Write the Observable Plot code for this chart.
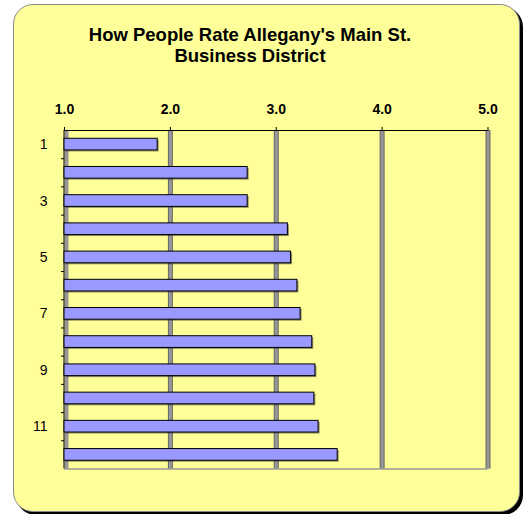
<!DOCTYPE html>
<html>
<head>
<meta charset="utf-8">
<script src="https://cdn.jsdelivr.net/npm/d3@7"></script>
<script src="https://cdn.jsdelivr.net/npm/@observablehq/plot@0.6"></script>
<style>
  html, body { margin: 0; padding: 0; background: #fff; }
  #wrap { position: relative; width: 526px; height: 514px; font-family: Arial, "Liberation Sans", sans-serif; }
  .panel { position: absolute; left: 13px; top: 4px; width: 507px; height: 508px; box-sizing: border-box;
    background: #FFFF99; border: 1px solid #888; border-radius: 20px; box-shadow: 3px 3px 0 #000; }
  .title { position: absolute; left: 0; top: 23.5px; width: 500px; text-align: center; font-weight: bold;
    font-size: 18.5px; line-height: 21px; color: #000; }
  #chart { position: absolute; left: 0; top: 0; }
  #chart svg { overflow: visible; }
</style>
</head>
<body>
<div id="wrap">
  <div class="panel"></div>
  <div class="title">How People Rate Allegany's Main St.<br>Business District</div>
  <div id="chart"></div>
</div>
<script>
const categories = [1, 2, 3, 4, 5, 6, 7, 8, 9, 10, 11, 12];
const ratings = [1.88, 2.73, 2.73, 3.11, 3.14, 3.20, 3.23, 3.34, 3.37, 3.36, 3.40, 3.58];
const xTicks = [1, 2, 3, 4, 5];
const yLabels = [1, 3, 5, 7, 9, 11];
const yBounds = [1.5, 2.5, 3.5, 4.5, 5.5, 6.5, 7.5, 8.5, 9.5, 10.5, 11.5];

const data = categories.map((c, i) => ({cat: c, rating: ratings[i]}));

const chart = Plot.plot({
  width: 526,
  height: 514,
  marginTop: 130,
  marginBottom: 45.5,
  marginLeft: 64,
  marginRight: 38.5,
  style: {background: "transparent", fontFamily: "Arial, 'Liberation Sans', sans-serif", color: "#000"},
  x: {domain: [1, 5]},
  y: {domain: [0.5, 12.5], reverse: true},
  marks: [
    Plot.ruleX(xTicks.slice(1), {x: d => d, stroke: "#666", strokeWidth: 5}),
    Plot.ruleX(xTicks.slice(1), {x: d => d, stroke: "url(#hatch)", strokeWidth: 3}),
    Plot.ruleX([xTicks[0]], {x: d => d, dx: 2, stroke: "url(#hatch)", strokeWidth: 4}),
    Plot.ruleY([12.5], {y: d => d, x1: 1, x2: 5, dx: 0, stroke: "#999", strokeWidth: 1.5}),
    Plot.ruleX([1], {x: d => d, dx: -0.5, stroke: "#000", strokeWidth: 1}),
    Plot.ruleY([0.5], {y: d => d, stroke: "#000", strokeWidth: 1}),
    Plot.rectX(data, {x1: 1, x2: "rating", y1: d => d.cat - 0.207, y2: d => d.cat + 0.207,
      dx: 1.5, dy: 1.5, fill: "#333", fillOpacity: 0.55}),
    Plot.rectX(data, {x1: 1, x2: "rating", y1: d => d.cat - 0.207, y2: d => d.cat + 0.207,
      fill: "#9999FF", stroke: "#000", strokeWidth: 1}),
    Plot.axisX({anchor: "top", ticks: xTicks, tickFormat: d3.format(".1f"), tickSize: 4, tickPadding: 13,
      fontSize: 14, fontWeight: "bold", label: null}),
    Plot.axisY({ticks: yLabels, tickSize: 0, tickPadding: 17, fontSize: 14, tickFormat: d => String(d), label: null}),
    Plot.axisY({ticks: yBounds, tickSize: 3, tickFormat: () => "", label: null})
  ]
});

const svg = d3.select(chart);
const defs = svg.insert("defs", ":first-child");
const pat = defs.append("pattern").attr("id", "hatch").attr("patternUnits", "userSpaceOnUse")
  .attr("width", 2).attr("height", 2);
pat.append("rect").attr("width", 2).attr("height", 2).attr("fill", "#d8d8d8");
pat.append("rect").attr("width", 1).attr("height", 1).attr("fill", "#555");
pat.append("rect").attr("x", 1).attr("y", 1).attr("width", 1).attr("height", 1).attr("fill", "#555");

document.getElementById("chart").appendChild(chart);
</script>
</body>
</html>
